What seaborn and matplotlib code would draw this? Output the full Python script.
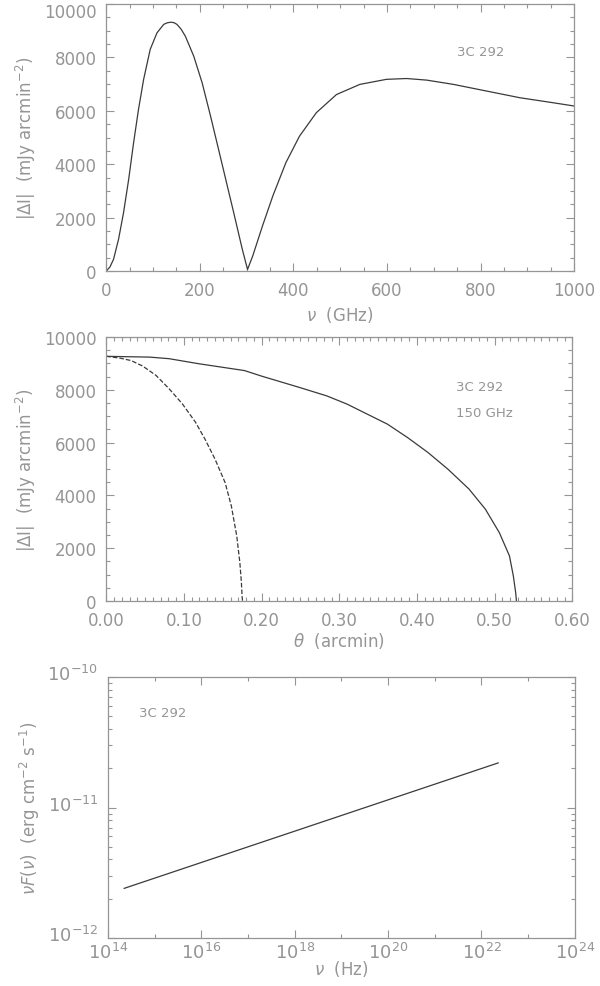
import numpy as np
import pandas as pd
import matplotlib
matplotlib.use("Agg")
import matplotlib.pyplot as plt
import matplotlib.ticker as mticker
import matplotlib.transforms as mtransforms
import seaborn as sns

# panel 1: |dI| vs frequency (GHz)
freq_ghz = [0, 8, 15.7, 26.4, 37, 48, 58.5, 69, 80, 94, 108.5, 123, 131, 138.5, 145,
            151, 160, 169, 187, 205, 223, 244, 262, 272, 291, 302, 313, 334, 356,
            384, 413, 449, 492, 542, 599, 642, 685, 742, 813, 884, 956, 1000]
dI_freq = [0, 150, 440, 1190, 2180, 3430, 4800, 6050, 7180, 8300, 8920, 9240, 9300,
           9320, 9300, 9240, 9060, 8800, 8050, 7050, 5800, 4270, 2950, 2220, 800, 60,
           560, 1690, 2810, 4060, 5050, 5930, 6610, 6990, 7180, 7210, 7150, 6990,
           6740, 6490, 6300, 6180]

# panel 2: |dI| vs angle (arcmin) at 150 GHz
theta_solid = [0.0, 0.056, 0.081, 0.119, 0.178, 0.20, 0.25, 0.284, 0.310, 0.336,
               0.362, 0.388, 0.414, 0.440, 0.467, 0.488, 0.506, 0.519, 0.524, 0.527,
               0.528]
dI_solid = [9270, 9240, 9180, 8990, 8730, 8520, 8080, 7770, 7460, 7080, 6700, 6190,
            5630, 4990, 4240, 3480, 2590, 1710, 950, 320, 0]
theta_dash = [0.0, 0.018, 0.032, 0.047, 0.064, 0.081, 0.098, 0.115, 0.127, 0.140,
              0.153, 0.161, 0.168, 0.172, 0.174, 0.175, 0.1755]
dI_dash = [9270, 9200, 9110, 8900, 8550, 8040, 7470, 6770, 6140, 5380, 4490, 3610,
           2470, 1460, 700, 130, 0]

# panel 3: nuF(nu) vs nu (Hz)
nu_hz = [2.2e14, 2.3e22]
nuFnu = [2.4e-12, 2.2e-11]

label = "3C 292"
freq_label = "150 GHz"

sns.set_style("ticks")
plt.rcParams["font.family"] = ["DejaVu Sans"]
plt.rcParams["mathtext.fontset"] = "dejavusans"

grey = "#959595"
line_c = "#3a3a3a"

fig = plt.figure(figsize=(6.0, 9.87), dpi=100)
ax1 = fig.add_axes([0.177, 0.7244, 0.780, 0.2705])
ax2 = fig.add_axes([0.177, 0.390, 0.777, 0.2675])
ax3 = fig.add_axes([0.180, 0.0486, 0.778, 0.2644])


def style(ax):
    for s in ax.spines.values():
        s.set_color(grey)
        s.set_linewidth(0.9)
    ax.tick_params(which="both", direction="in", top=True, right=True,
                   colors=grey, labelcolor=grey, labelsize=12, width=0.8)
    ax.tick_params(which="major", length=6, pad=7)
    ax.tick_params(which="minor", length=3)
    ax.xaxis.label.set_color(grey)
    ax.yaxis.label.set_color(grey)


df1 = pd.DataFrame({"nu": freq_ghz, "dI": dI_freq})
sns.lineplot(data=df1, x="nu", y="dI", ax=ax1, color=line_c, lw=0.9)
ax1.set_xlim(0, 1000)
ax1.set_ylim(0, 10000)
ax1.xaxis.set_major_locator(mticker.MultipleLocator(200))
ax1.xaxis.set_minor_locator(mticker.MultipleLocator(50))
ax1.yaxis.set_major_locator(mticker.MultipleLocator(2000))
ax1.yaxis.set_minor_locator(mticker.MultipleLocator(500))
ax1.set_xlabel(r"$\nu$  (GHz)", fontsize=12)
ax1.set_ylabel(r"|$\Delta$I|  (mJy arcmin$^{-2}$)", fontsize=12)
ax1.text(0.75, 0.81, label, transform=ax1.transAxes, fontsize=9.5, color=grey)
style(ax1)

df2s = pd.DataFrame({"theta": theta_solid, "dI": dI_solid})
df2d = pd.DataFrame({"theta": theta_dash, "dI": dI_dash})
sns.lineplot(data=df2s, x="theta", y="dI", ax=ax2, color=line_c, lw=0.9)
sns.lineplot(data=df2d, x="theta", y="dI", ax=ax2, color=line_c, lw=0.9, linestyle="--")
ax2.set_xlim(0, 0.6)
ax2.set_ylim(0, 10000)
ax2.xaxis.set_major_locator(mticker.MultipleLocator(0.1))
ax2.xaxis.set_minor_locator(mticker.MultipleLocator(0.01))
ax2.xaxis.set_major_formatter(mticker.FormatStrFormatter("%.2f"))
ax2.yaxis.set_major_locator(mticker.MultipleLocator(2000))
ax2.yaxis.set_minor_locator(mticker.MultipleLocator(500))
ax2.set_xlabel(r"$\theta$  (arcmin)", fontsize=12, labelpad=1)
ax2.set_ylabel(r"|$\Delta$I|  (mJy arcmin$^{-2}$)", fontsize=12)
ax2.text(0.75, 0.80, label, transform=ax2.transAxes, fontsize=9.5, color=grey)
ax2.text(0.75, 0.70, freq_label, transform=ax2.transAxes, fontsize=9.5, color=grey)
style(ax2)

df3 = pd.DataFrame({"nu": nu_hz, "F": nuFnu})
sns.lineplot(data=df3, x="nu", y="F", ax=ax3, color=line_c, lw=0.9)
ax3.set_xscale("log")
ax3.set_yscale("log")
ax3.set_xlim(1e14, 1e24)
ax3.set_ylim(1e-12, 1e-10)
ax3.xaxis.set_major_locator(mticker.FixedLocator([1e14, 1e16, 1e18, 1e20, 1e22, 1e24]))
ax3.xaxis.set_major_formatter(mticker.FuncFormatter(
    lambda v, p: r"$10^{%d}$" % round(np.log10(v))))
ax3.xaxis.set_minor_locator(mticker.FixedLocator([1e15, 1e17, 1e19, 1e21, 1e23]))
ax3.xaxis.set_minor_formatter(mticker.NullFormatter())
ax3.yaxis.set_major_locator(mticker.FixedLocator([1e-12, 1e-11, 1e-10]))
ax3.yaxis.set_minor_locator(mticker.LogLocator(base=10, subs=np.arange(2, 10), numticks=20))
ax3.yaxis.set_minor_formatter(mticker.NullFormatter())
ax3.set_xlabel(r"$\nu$  (Hz)", fontsize=12, labelpad=-3)
ax3.set_ylabel(r"$\nu F(\nu)$  (erg cm$^{-2}$ s$^{-1}$)", fontsize=12)
ax3.text(0.067, 0.85, label, transform=ax3.transAxes, fontsize=9.5, color=grey)
style(ax3)
ax3.tick_params(axis="both", labelsize=13)
ax3.tick_params(axis="x", which="major", pad=3)

# nudge a few tick labels like the original layout
fig.canvas.draw()
up = mtransforms.ScaledTranslation(0, 5 / 100, fig.dpi_scale_trans)
for t in ax3.yaxis.get_major_ticks():
    t.label1.set_transform(t.label1.get_transform() + up)
down = mtransforms.ScaledTranslation(0, -6 / 100, fig.dpi_scale_trans)
for t in ax1.yaxis.get_major_ticks():
    if abs(t.get_loc() - 10000) < 1:
        t.label1.set_transform(t.label1.get_transform() + down)

fig.savefig("out.png", dpi=100)
